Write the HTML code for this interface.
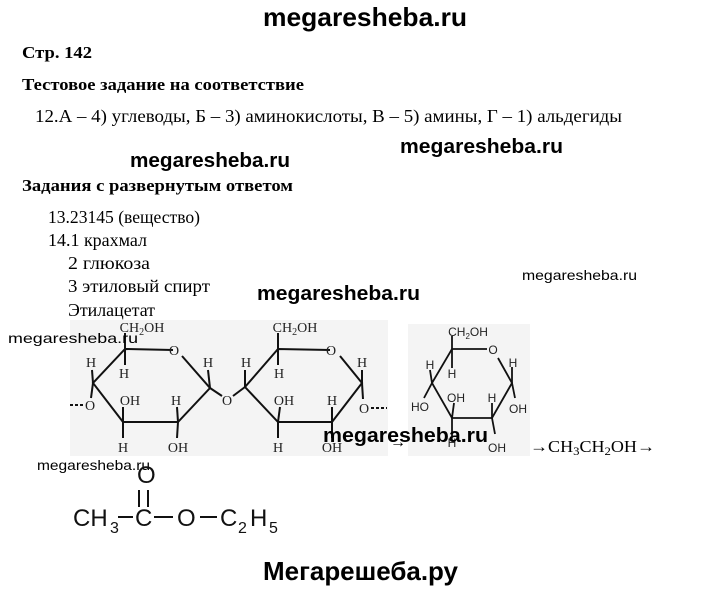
<!DOCTYPE html>
<html><head><meta charset="utf-8"><style>
html,body{margin:0;padding:0;background:#fff;width:720px;height:589px;overflow:hidden}
svg{display:block}
.s{font-family:"Liberation Serif",serif}
.b{font-family:"Liberation Sans",sans-serif;font-weight:bold}
.a{font-family:"Liberation Sans",sans-serif}
</style></head><body>
<svg width="720" height="589" viewBox="0 0 720 589" xmlns="http://www.w3.org/2000/svg">
<rect x="70" y="320" width="318" height="136" fill="#f4f4f4"/>
<rect x="408" y="324" width="122" height="132" fill="#f4f4f4"/>

<text class="b" x="263" y="26" font-size="26" textLength="204" lengthAdjust="spacingAndGlyphs">megaresheba.ru</text>
<text class="s" x="22" y="58" font-size="17" font-weight="bold" textLength="70" lengthAdjust="spacingAndGlyphs">Стр. 142</text>
<text class="s" x="22" y="90" font-size="17" font-weight="bold" textLength="282" lengthAdjust="spacingAndGlyphs">Тестовое задание на соответствие</text>
<text class="s" x="35" y="122" font-size="18" textLength="587" lengthAdjust="spacingAndGlyphs">12.А – 4) углеводы, Б – 3) аминокислоты, В – 5) амины, Г – 1) альдегиды</text>
<text class="b" x="400" y="153" font-size="20" textLength="163" lengthAdjust="spacingAndGlyphs">megaresheba.ru</text>
<text class="b" x="130" y="167" font-size="20" textLength="160" lengthAdjust="spacingAndGlyphs">megaresheba.ru</text>
<text class="s" x="22" y="191" font-size="17" font-weight="bold" textLength="271" lengthAdjust="spacingAndGlyphs">Задания с развернутым ответом</text>
<text class="s" x="48" y="223" font-size="18" textLength="152" lengthAdjust="spacingAndGlyphs">13.23145 (вещество)</text>
<text class="s" x="48" y="246" font-size="18" textLength="99" lengthAdjust="spacingAndGlyphs">14.1 крахмал</text>
<text class="s" x="68" y="269" font-size="18" textLength="82" lengthAdjust="spacingAndGlyphs">2 глюкоза</text>
<text class="s" x="68" y="292" font-size="18" textLength="142" lengthAdjust="spacingAndGlyphs">3 этиловый спирт</text>
<text class="s" x="68" y="316" font-size="18" textLength="87" lengthAdjust="spacingAndGlyphs">Этилацетат</text>
<text class="b" x="257" y="300" font-size="20" textLength="163" lengthAdjust="spacingAndGlyphs">megaresheba.ru</text>
<text class="a" x="522" y="280" font-size="14" textLength="115" lengthAdjust="spacingAndGlyphs">megaresheba.ru</text>

<!-- cellulose -->
<g stroke="#111" stroke-width="2" fill="none">
<polyline points="173,350 125,349 93,383 123,422 178,422 210,388 182,356"/>
<line x1="210" y1="388" x2="222" y2="396"/><line x1="233" y1="396" x2="245" y2="387"/>
<polyline points="330,350 278,349 245,387 278,422 332,422 362,383 340,356"/>
<line x1="125" y1="349" x2="125" y2="333"/><line x1="125" y1="349" x2="125" y2="365"/>
<line x1="93" y1="383" x2="92" y2="370"/><line x1="93" y1="383" x2="91" y2="398"/>
<line x1="123" y1="422" x2="123" y2="407"/><line x1="123" y1="422" x2="123" y2="438"/>
<line x1="178" y1="422" x2="177" y2="407"/><line x1="178" y1="422" x2="177" y2="438"/>
<line x1="210" y1="388" x2="208" y2="370"/>
<line x1="278" y1="349" x2="278" y2="333"/><line x1="278" y1="349" x2="278" y2="365"/>
<line x1="245" y1="387" x2="245" y2="370"/>
<line x1="278" y1="422" x2="280" y2="407"/><line x1="278" y1="422" x2="278" y2="438"/>
<line x1="332" y1="422" x2="332" y2="407"/><line x1="332" y1="422" x2="332" y2="438"/>
<line x1="362" y1="383" x2="362" y2="370"/><line x1="362" y1="383" x2="363" y2="399"/>
</g>
<g stroke="#111" stroke-width="2" stroke-dasharray="3,2"><line x1="70" y1="405" x2="84" y2="405"/><line x1="371" y1="408" x2="387" y2="408"/></g>
<g class="s" font-size="14" fill="#222" text-anchor="middle">
<text x="142" y="332">CH<tspan font-size="10" dy="3">2</tspan><tspan dy="-3">OH</tspan></text>
<text x="174" y="355">O</text>
<text x="91" y="367">H</text><text x="124" y="378">H</text>
<text x="90" y="410">O</text>
<text x="130" y="405">OH</text><text x="176" y="405">H</text>
<text x="123" y="452">H</text><text x="178" y="452">OH</text>
<text x="208" y="367">H</text>
<text x="227" y="405">O</text>
<text x="246" y="367">H</text><text x="279" y="378">H</text>
<text x="295" y="332">CH<tspan font-size="10" dy="3">2</tspan><tspan dy="-3">OH</tspan></text>
<text x="331" y="355">O</text>
<text x="362" y="367">H</text>
<text x="364" y="413">O</text>
<text x="284" y="405">OH</text><text x="332" y="405">H</text>
<text x="278" y="452">H</text><text x="332" y="452">OH</text>
</g>
<text class="s" x="390" y="447" font-size="16">→</text>

<!-- glucose -->
<g stroke="#111" stroke-width="1.8" fill="none">
<polyline points="487,349 452,349 432,383 452,418 492,418 512,383 498,358"/>
<line x1="452" y1="349" x2="452" y2="336"/><line x1="452" y1="349" x2="452" y2="368"/>
<line x1="432" y1="383" x2="430" y2="370"/><line x1="432" y1="383" x2="424" y2="398"/>
<line x1="452" y1="418" x2="454" y2="403"/><line x1="452" y1="418" x2="452" y2="436"/>
<line x1="492" y1="418" x2="492" y2="403"/><line x1="492" y1="418" x2="495" y2="434"/>
<line x1="512" y1="383" x2="512" y2="367"/><line x1="512" y1="383" x2="515" y2="398"/>
</g>
<g class="a" font-size="12" fill="#222" text-anchor="middle">
<text x="468" y="336">CH<tspan font-size="8" dy="3">2</tspan><tspan dy="-3">OH</tspan></text>
<text x="493" y="354">O</text>
<text x="430" y="369">H</text><text x="452" y="378">H</text>
<text x="513" y="367">H</text>
<text x="420" y="411">HO</text><text x="456" y="402">OH</text><text x="492" y="402">H</text>
<text x="518" y="413">OH</text>
<text x="452" y="447">H</text><text x="497" y="452">OH</text>
</g>
<text class="s" x="530" y="452" font-size="17" textLength="125" lengthAdjust="spacingAndGlyphs">→CH<tspan font-size="12" dy="3">3</tspan><tspan dy="-3">CH</tspan><tspan font-size="12" dy="3">2</tspan><tspan dy="-3">OH→</tspan></text>

<text class="b" x="323" y="442" font-size="20" textLength="165" lengthAdjust="spacingAndGlyphs">megaresheba.ru</text>
<text class="a" x="8" y="343" font-size="14" textLength="130" lengthAdjust="spacingAndGlyphs">megaresheba.ru</text>
<text class="a" x="37" y="470" font-size="14" textLength="113" lengthAdjust="spacingAndGlyphs">megaresheba.ru</text>

<!-- ester -->
<g class="a" font-size="24" fill="#111">
<text x="73" y="526">CH</text><text x="110" y="533" font-size="16">3</text>
<text x="135" y="526">C</text>
<text x="137" y="483">O</text>
<text x="177" y="526">O</text>
<text x="220" y="526">C</text><text x="238" y="533" font-size="16">2</text>
<text x="250" y="526">H</text><text x="269" y="533" font-size="16">5</text>
</g>
<g stroke="#111" stroke-width="2">
<line x1="118" y1="517" x2="133" y2="517"/><line x1="154" y1="517" x2="173" y2="517"/><line x1="200" y1="517" x2="217" y2="517"/>
<line x1="139" y1="490" x2="139" y2="507"/><line x1="148" y1="490" x2="148" y2="507"/>
</g>

<text class="b" x="263" y="580" font-size="26" textLength="195" lengthAdjust="spacingAndGlyphs">Мегарешеба.ру</text>
</svg>
</body></html>
